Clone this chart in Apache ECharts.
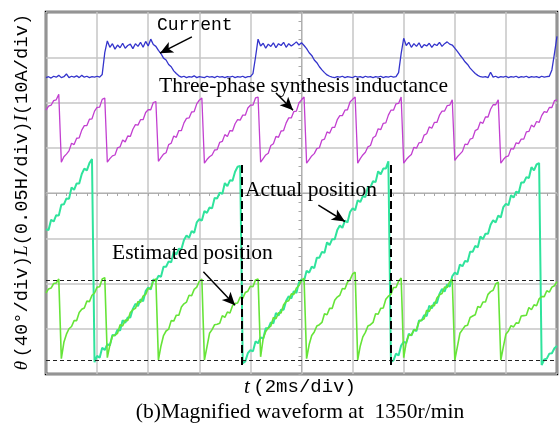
<!DOCTYPE html>
<html>
<head>
<meta charset="utf-8">
<script src="https://cdn.jsdelivr.net/npm/echarts@6/dist/echarts.min.js"></script>
<style>
  html, body { margin: 0; padding: 0; background: #fff; }
  #chart { width: 559px; height: 430px; }
</style>
</head>
<body>
<div id="chart"></div>
<script>
// Oscilloscope capture: 10 horizontal divisions (2 ms/div), 8 vertical divisions.
// Sample base: one reading every 0.1 ms, screen centre at t = 0.
const time = [];
for (let i = 0; i <= 200; i++) time.push(+(-10 + i * 0.1).toFixed(1));

// Trace readings in divisions (screen centre = 0)
const current = [
  2.55, 2.57, 2.54, 2.58, 2.56, 2.60, 2.55, 2.57, 2.63, 2.55, 2.58, 2.56, 2.59, 2.55, 2.60, 2.56, 2.58, 2.55, 2.57, 2.56,
  2.58, 2.56, 2.62, 3.10, 3.36, 3.22, 3.30, 3.18, 3.27, 3.21, 3.31, 3.20, 3.26, 3.29, 3.19, 3.30, 3.24, 3.33, 3.22, 3.35,
  3.25, 3.40, 3.28, 3.24, 3.15, 3.08, 2.98, 2.94, 2.84, 2.79, 2.70, 2.64, 2.59, 2.56, 2.58, 2.55, 2.57, 2.56, 2.59, 2.55,
  2.57, 2.56, 2.55, 2.58, 2.56, 2.57, 2.55, 2.58, 2.56, 2.57, 2.55, 2.57, 2.56, 2.58, 2.55, 2.57, 2.56, 2.58, 2.55, 2.57,
  2.57, 2.64, 3.00, 3.40, 3.25, 3.31, 3.20, 3.29, 3.24, 3.32, 3.21, 3.30, 3.26, 3.33, 3.22, 3.30, 3.25, 3.29, 3.34, 3.27,
  3.32, 3.26, 3.19, 3.10, 3.04, 2.94, 2.88, 2.79, 2.72, 2.66, 2.61, 2.58, 2.56, 2.55, 2.57, 2.56, 2.58, 2.55, 2.57, 2.56,
  2.55, 2.58, 2.56, 2.57, 2.55, 2.58, 2.56, 2.57, 2.55, 2.57, 2.56, 2.58, 2.55, 2.57, 2.56, 2.58, 2.56, 2.57, 2.66, 3.08,
  3.42, 3.26, 3.33, 3.22, 3.30, 3.24, 3.32, 3.21, 3.28, 3.25, 3.31, 3.22, 3.29, 3.26, 3.33, 3.24, 3.30, 3.34, 3.29, 3.27,
  3.20, 3.13, 3.05, 2.98, 2.90, 2.84, 2.76, 2.70, 2.64, 2.60, 2.57, 2.56, 2.57, 2.55, 2.67, 2.56, 2.58, 2.55, 2.57, 2.56,
  2.58, 2.55, 2.57, 2.56, 2.58, 2.55, 2.57, 2.56, 2.58, 2.55, 2.57, 2.56, 2.57, 2.55, 2.58, 2.56, 2.57, 2.58, 2.72, 3.08,
  3.46
];

const inductance = [
  1.83, 1.92, 1.94, 2.04, 2.06, 2.18, 0.68, 0.80, 0.86, 0.93, 1.10, 1.07, 1.21, 1.22, 1.39, 1.49, 1.49, 1.63, 1.64, 1.81,
  1.89, 1.90, 2.07, 2.10, 0.68, 0.76, 0.82, 0.84, 1.00, 1.02, 1.17, 1.13, 1.26, 1.25, 1.41, 1.51, 1.50, 1.62, 1.62, 1.78,
  1.84, 1.84, 2.00, 2.02, 0.70, 0.78, 0.86, 0.89, 1.07, 1.10, 1.26, 1.23, 1.38, 1.38, 1.55, 1.65, 1.66, 1.79, 1.80, 1.97,
  2.05, 2.10, 0.66, 0.74, 0.80, 0.84, 0.95, 0.96, 1.12, 1.14, 1.29, 1.25, 1.38, 1.37, 1.53, 1.62, 1.61, 1.72, 1.72, 1.88,
  1.94, 1.94, 2.10, 2.12, 0.68, 0.76, 0.84, 0.88, 1.05, 1.09, 1.25, 1.23, 1.37, 1.38, 1.55, 1.66, 1.66, 1.80, 1.81, 1.99,
  2.06, 2.12, 0.66, 0.74, 0.82, 0.87, 0.98, 1.00, 1.17, 1.19, 1.35, 1.32, 1.45, 1.45, 1.62, 1.71, 1.71, 1.83, 1.84, 2.01,
  2.07, 2.12, 0.66, 0.76, 0.84, 0.90, 1.02, 1.05, 1.22, 1.26, 1.42, 1.40, 1.54, 1.55, 1.72, 1.83, 1.83, 1.97, 1.98, 2.12,
  0.66, 0.74, 0.80, 0.85, 1.01, 0.99, 1.11, 1.12, 1.28, 1.31, 1.46, 1.43, 1.56, 1.56, 1.72, 1.81, 1.81, 1.93, 1.94, 2.06,
  0.72, 0.80, 0.86, 0.92, 1.08, 1.07, 1.19, 1.21, 1.38, 1.41, 1.57, 1.54, 1.68, 1.68, 1.85, 1.95, 1.95, 2.06, 0.66, 0.74,
  0.80, 0.82, 0.98, 0.97, 1.11, 1.09, 1.19, 1.19, 1.35, 1.36, 1.50, 1.46, 1.58, 1.56, 1.71, 1.80, 1.78, 1.89, 1.89, 2.04,
  2.06
];

const actualPosition = [
  -0.80, -0.82, -0.59, -0.63, -0.49, -0.50, -0.26, -0.25, -0.12, -0.13, 0.12, 0.07, 0.21, 0.21, 0.42, 0.54, 0.50, 0.66, 0.75, -3.74,
  -3.60, -3.64, -3.42, -3.47, -3.34, -3.37, -3.14, -3.15, -3.02, -3.04, -2.81, -2.87, -2.75, -2.75, -2.56, -2.45, -2.50, -2.35, -2.39, -2.17,
  -2.09, -2.13, -1.91, -1.95, -1.83, -1.85, -1.63, -1.63, -1.51, -1.53, -1.29, -1.36, -1.23, -1.24, -1.04, -0.94, -0.99, -0.84, -0.88, -0.65,
  -0.58, -0.61, -0.40, -0.44, -0.32, -0.34, -0.11, -0.12, 0.01, -0.02, 0.22, 0.15, 0.28, 0.27, 0.47, 0.58, 0.60, -3.76, -3.72, -3.54,
  -3.47, -3.50, -3.28, -3.32, -3.19, -3.22, -2.99, -2.99, -2.86, -2.88, -2.65, -2.71, -2.58, -2.58, -2.38, -2.28, -2.33, -2.17, -2.21, -1.98,
  -1.91, -1.94, -1.72, -1.76, -1.63, -1.66, -1.43, -1.43, -1.30, -1.32, -1.09, -1.15, -1.02, -1.02, -0.82, -0.72, -0.77, -0.61, -0.65, -0.42,
  -0.34, -0.38, -0.16, -0.20, -0.07, -0.09, 0.13, 0.13, 0.26, 0.24, 0.48, 0.41, 0.54, 0.54, 0.70, -3.73, -3.70, -3.55, -3.59, -3.37,
  -3.29, -3.32, -3.11, -3.15, -3.02, -3.05, -2.82, -2.82, -2.70, -2.72, -2.49, -2.55, -2.42, -2.43, -2.23, -2.12, -2.18, -2.02, -2.07, -1.84,
  -1.76, -1.80, -1.58, -1.62, -1.50, -1.52, -1.30, -1.30, -1.17, -1.20, -0.96, -1.02, -0.90, -0.90, -0.70, -0.60, -0.65, -0.50, -0.54, -0.31,
  -0.24, -0.27, -0.05, -0.10, 0.03, 0.00, 0.23, 0.23, 0.35, 0.33, 0.57, 0.50, 0.63, 0.66, -3.80, -3.68, -3.66, -3.55, -3.54, -3.43,
  -3.38
];

const estimatedPosition = [
  -2.21, -2.12, -2.10, -2.00, -1.99, -1.90, -3.66, -3.30, -3.12, -3.00, -2.95, -2.82, -2.82, -2.64, -2.57, -2.54, -2.39, -2.40, -2.26, -2.21,
  -2.08, -2.07, -1.90, -1.87, -3.64, -3.36, -3.16, -3.14, -3.10, -2.91, -2.94, -2.81, -2.82, -2.64, -2.58, -2.55, -2.40, -2.42, -2.28, -2.24,
  -2.11, -2.11, -1.94, -1.90, -3.69, -3.38, -3.15, -3.05, -3.01, -2.82, -2.83, -2.70, -2.70, -2.52, -2.45, -2.41, -2.26, -2.27, -2.13, -2.08,
  -1.95, -1.90, -3.69, -3.40, -3.10, -3.02, -2.91, -2.90, -2.88, -2.71, -2.75, -2.63, -2.65, -2.49, -2.44, -2.43, -2.30, -2.33, -2.20, -2.17,
  -2.06, -2.07, -1.92, -1.90, -3.62, -3.22, -3.06, -2.98, -2.94, -2.75, -2.78, -2.65, -2.65, -2.47, -2.40, -2.38, -2.23, -2.24, -2.10, -2.05,
  -1.93, -1.89, -3.66, -3.35, -3.15, -3.07, -2.94, -2.91, -2.86, -2.67, -2.69, -2.55, -2.55, -2.37, -2.30, -2.26, -2.11, -2.12, -1.97, -1.92,
  -1.79, -1.75, -3.69, -3.38, -3.18, -3.08, -2.94, -2.91, -2.86, -2.67, -2.68, -2.55, -2.54, -2.35, -2.28, -2.24, -2.09, -2.09, -1.95, -1.88,
  -3.64, -3.30, -3.14, -3.14, -3.03, -3.02, -2.84, -2.81, -2.78, -2.59, -2.62, -2.49, -2.49, -2.32, -2.25, -2.22, -2.08, -2.09, -1.96, -1.90,
  -3.69, -3.40, -3.10, -3.02, -2.94, -2.92, -2.75, -2.72, -2.69, -2.51, -2.53, -2.41, -2.41, -2.24, -2.18, -2.15, -2.01, -1.97, -3.69, -3.40,
  -3.12, -3.05, -2.93, -2.96, -2.87, -2.88, -2.72, -2.71, -2.70, -2.53, -2.58, -2.47, -2.49, -2.34, -2.29, -2.29, -2.16, -2.19, -2.08, -2.05,
  -1.96
];

// Cursor and level markers (time in ms, level in divisions)
const cursorTimes = [-2.33, 3.50];
const cursorSpan = [0.62, -3.85];
const levelLines = [-1.93, -3.70];

// Callout arrows: [tail, head] in [ms, div]
const currentArrow = [[-4.29, 3.45], [-5.54, 3.09]];
const inductanceArrow = [[-1.00, 2.21], [-0.33, 1.83]];
const actualArrow = [[0.66, -0.27], [1.70, -0.63]];
const estimatedArrow = [[-3.84, -1.74], [-2.60, -2.48]];

const pairs = arr => time.map((t, i) => [t, arr[i]]);

const chart = echarts.init(document.getElementById('chart'), null, { renderer: 'canvas' });

const gridColor = '#c6c6c6';
const mono = '"Liberation Mono", "DejaVu Sans Mono", monospace';
const serif = '"Liberation Serif", "DejaVu Serif", serif';

function arrowLine(a) {
  return [{ coord: a[0] }, { coord: a[1] }];
}

chart.setOption({
  animation: false,
  backgroundColor: '#ffffff',
  grid: {
    left: 46, right: 2, top: 12, bottom: 56,
    show: true, borderColor: '#000', borderWidth: 2.5, backgroundColor: 'transparent'
  },
  xAxis: {
    type: 'value', min: -10, max: 10, interval: 2,
    axisLine: { show: true, onZero: true, lineStyle: { color: '#b0b0b0', width: 1 } },
    axisTick: { show: true, length: 3, lineStyle: { color: '#a8a8a8' } },
    minorTick: { show: true, splitNumber: 5, length: 3, lineStyle: { color: '#a8a8a8' } },
    axisLabel: { show: false },
    splitLine: { show: true, lineStyle: { color: gridColor, width: 1.5 } }
  },
  yAxis: {
    type: 'value', min: -4, max: 4, interval: 1,
    axisLine: { show: true, onZero: true, lineStyle: { color: '#b0b0b0', width: 1 } },
    axisTick: { show: true, length: 3, lineStyle: { color: '#a8a8a8' } },
    minorTick: { show: true, splitNumber: 5, length: 3, lineStyle: { color: '#a8a8a8' } },
    axisLabel: { show: false },
    splitLine: { show: true, lineStyle: { color: gridColor, width: 1.5 } }
  },
  series: [
    {
      name: 'Current', type: 'line', data: pairs(current), showSymbol: false,
      lineStyle: { color: '#3434cc', width: 1.3 }, z: 3
    },
    {
      name: 'Three-phase synthesis inductance', type: 'line', data: pairs(inductance), showSymbol: false,
      lineStyle: { color: '#c23fd0', width: 1.3 }, z: 3
    },
    {
      name: 'Actual position', type: 'line', data: pairs(actualPosition), showSymbol: false,
      lineStyle: { color: '#2fe39c', width: 2 }, z: 3
    },
    {
      name: 'Estimated position', type: 'line', data: pairs(estimatedPosition), showSymbol: false,
      lineStyle: { color: '#66e438', width: 1.6 }, z: 4,
      markLine: {
        silent: true, symbol: 'none', label: { show: false },
        lineStyle: { color: '#222', type: [4, 3], width: 1 },
        data: levelLines.map(v => ({ yAxis: v }))
      }
    },
    {
      name: 'cursors', type: 'line', data: [], z: 5,
      markLine: {
        silent: true, symbol: 'none', label: { show: false },
        lineStyle: { color: '#000', type: [8, 4], width: 2 },
        data: cursorTimes.map(t => [{ coord: [t, cursorSpan[0]] }, { coord: [t, cursorSpan[1]] }])
      }
    },
    {
      name: 'callouts', type: 'line', data: [], z: 6,
      markLine: {
        silent: true, symbol: ['none', 'arrow'], symbolSize: [9, 13], label: { show: false },
        lineStyle: { color: '#000', type: 'solid', width: 1.5 },
        itemStyle: { color: '#000' },
        data: [currentArrow, inductanceArrow, actualArrow, estimatedArrow].map(arrowLine)
      }
    }
  ],
  graphic: [
    { type: 'text', left: 157, top: 16, z: 10,
      style: { text: 'Current', font: '18px ' + mono, fill: '#000' } },
    { type: 'text', left: 159, top: 75, z: 10,
      style: { text: 'Three-phase synthesis inductance', font: '21.5px ' + serif, fill: '#000' } },
    { type: 'text', left: 245, top: 179, z: 10,
      style: { text: 'Actual position', font: '21.5px ' + serif, fill: '#000' } },
    { type: 'text', left: 112, top: 242, z: 10,
      style: { text: 'Estimated position', font: '21.5px ' + serif, fill: '#000' } },
    { type: 'text', x: 300, y: 387, z: 10,
      style: {
        text: '{i|t} {m|(2ms/div)}', align: 'center', verticalAlign: 'middle',
        rich: {
          i: { font: 'italic 21px ' + serif, fill: '#000' },
          m: { font: '19px ' + mono, fill: '#000' }
        }
      } },
    { type: 'text', x: 300, y: 412, z: 10,
      style: { text: '(b)Magnified waveform at  1350r/min', font: '21.5px ' + serif, fill: '#000',
        align: 'center', verticalAlign: 'middle' } },
    { type: 'text', x: 22, y: 192, rotation: Math.PI / 2, z: 10,
      style: {
        text: '{i|θ} {m|(40°/div)}{i|L}{m|(0.05H/div)}{i|I}{m|(10A/div)}',
        align: 'center', verticalAlign: 'middle',
        rich: {
          i: { font: 'italic 19px ' + serif, fill: '#000' },
          m: { font: '18.8px ' + mono, fill: '#000' }
        }
      } }
  ]
});
</script>
</body>
</html>
